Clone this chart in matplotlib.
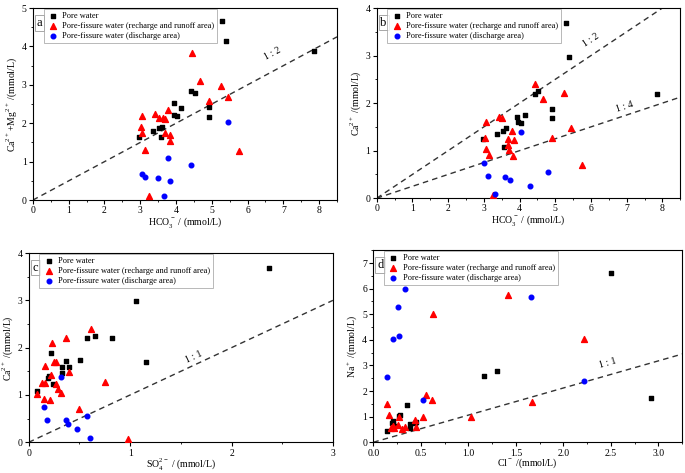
import numpy as np
import matplotlib.pyplot as plt
from matplotlib.ticker import MultipleLocator

plt.rcParams['font.family'] = ['Liberation Serif', 'DejaVu Serif']
plt.rcParams['mathtext.fontset'] = 'custom'
plt.rcParams['mathtext.rm'] = 'Liberation Serif'

labels = ['Pore water',
          'Pore-fissure water (recharge and runoff area)',
          'Pore-fissure water (discharge area)']

# panel a: HCO3- vs Ca2+ + Mg2+
a_pore_x = [2.97, 3.37, 3.53, 3.57, 3.61, 3.93, 3.94, 4.03, 4.15, 4.42, 4.53, 4.92, 4.92, 5.28, 5.40, 7.87]
a_pore_y = [1.65, 1.80, 1.87, 1.64, 1.91, 2.53, 2.21, 2.18, 2.41, 2.83, 2.79, 2.43, 2.16, 4.67, 4.13, 3.87]
a_rech_x = [3.01, 3.05, 3.06, 3.13, 3.25, 3.41, 3.52, 3.65, 3.68, 3.69, 3.78, 3.83, 3.84, 4.44, 4.66, 4.91, 5.26, 5.46, 5.75]
a_rech_y = [1.89, 1.74, 2.19, 1.30, 0.11, 2.24, 2.13, 2.13, 2.10, 1.74, 2.35, 1.53, 1.70, 3.82, 3.10, 2.59, 2.96, 2.68, 1.29]
a_dis_x = [3.06, 3.13, 3.50, 3.66, 3.78, 3.83, 4.43, 5.45]
a_dis_y = [0.68, 0.61, 0.58, 0.10, 1.10, 0.49, 0.92, 2.04]

# panel b: HCO3- vs Ca2+
b_pore_x = [2.98, 3.37, 3.54, 3.57, 3.62, 3.94, 3.95, 4.05, 4.15, 4.42, 4.52, 4.92, 4.92, 5.29, 5.39, 7.86]
b_pore_y = [1.24, 1.35, 1.42, 1.08, 1.47, 1.71, 1.60, 1.59, 1.75, 2.20, 2.25, 1.87, 1.68, 3.69, 2.98, 2.20]
b_rech_x = [3.03, 3.06, 3.07, 3.15, 3.25, 3.43, 3.52, 3.68, 3.67, 3.71, 3.79, 3.84, 3.83, 4.44, 4.66, 4.92, 5.25, 5.45, 5.75]
b_rech_y = [1.26, 1.61, 1.04, 0.91, 0.06, 1.71, 1.68, 1.24, 1.11, 1.01, 1.42, 1.23, 0.88, 2.40, 2.08, 1.26, 2.21, 1.47, 0.69]
b_dis_x = [3.00, 3.12, 3.31, 3.60, 3.72, 4.05, 4.28, 4.81]
b_dis_y = [0.75, 0.46, 0.08, 0.45, 0.38, 1.39, 0.26, 0.55]

# panel c: SO4 2- vs Ca2+
c_pore_x = [0.08, 0.19, 0.20, 0.22, 0.24, 0.33, 0.33, 0.37, 0.40, 0.51, 0.57, 0.65, 0.82, 1.06, 1.16, 2.37]
c_pore_y = [1.09, 1.35, 1.41, 1.88, 1.24, 1.59, 1.46, 1.71, 1.60, 1.74, 2.20, 2.25, 2.21, 2.98, 1.69, 3.68]
c_rech_x = [0.61, 0.37, 0.23, 0.25, 0.27, 0.16, 0.22, 0.40, 0.13, 0.16, 0.27, 0.29, 0.32, 0.75, 0.08, 0.15, 0.21, 0.50, 0.98]
c_rech_y = [2.40, 2.21, 2.09, 1.70, 1.69, 1.62, 1.42, 1.48, 1.26, 1.25, 1.23, 1.12, 1.05, 1.27, 1.02, 0.92, 0.89, 0.70, 0.07]
c_dis_x = [0.32, 0.15, 0.18, 0.37, 0.39, 0.48, 0.57, 0.60]
c_dis_y = [1.39, 0.75, 0.47, 0.46, 0.38, 0.27, 0.55, 0.09]

# panel d: Cl- vs Na+
d_pore_x = [0.14, 0.21, 0.21, 0.22, 0.27, 0.28, 0.35, 0.39, 0.39, 0.44, 0.45, 1.16, 1.30, 2.50, 2.92, 0.20]
d_pore_y = [0.44, 0.83, 0.70, 0.62, 1.03, 1.08, 1.44, 0.70, 0.54, 0.74, 0.80, 2.59, 2.79, 6.61, 1.71, 0.75]
d_rech_x = [0.14, 0.16, 0.185, 0.21, 0.22, 0.26, 0.27, 0.30, 0.33, 0.44, 0.45, 0.52, 0.55, 0.62, 0.63, 1.03, 1.42, 1.67, 2.22]
d_rech_y = [1.50, 1.05, 0.55, 0.62, 0.54, 0.67, 0.99, 0.51, 0.59, 0.86, 0.58, 0.99, 1.84, 1.64, 5.01, 0.99, 5.75, 1.57, 4.04]
d_dis_x = [0.14, 0.21, 0.26, 0.27, 0.33, 0.52, 1.66, 2.22]
d_dis_y = [2.55, 4.02, 5.29, 4.15, 5.99, 1.64, 5.69, 2.41]

fig = plt.figure(figsize=(6.85, 4.73), dpi=100)


def panel(rect, letter, pore, rech, dis, xlim, ylim, xstep, ystep, xlabel, ylabel,
          lines, xfmt=None):
    ax = fig.add_axes(rect)
    ax.scatter(*pore, marker='s', s=11, c='black', label=labels[0], zorder=3)
    ax.scatter(*rech, marker='^', s=18, c='red', label=labels[1], zorder=3)
    ax.scatter(*dis, marker='o', s=11, c='blue', label=labels[2], zorder=3)
    xs = np.array([0, xlim[1]])
    for slope, txt, tx, ty, rot in lines:
        ax.plot(xs, slope * xs, ls=(0, (4, 3)), color='#333333', lw=1)
        ax.text(tx, ty, txt, rotation=rot, fontsize=7, ha='center', va='center')
    ax.set_xlim(*xlim)
    ax.set_ylim(*ylim)
    ax.xaxis.set_major_locator(MultipleLocator(xstep))
    ax.yaxis.set_major_locator(MultipleLocator(ystep))
    ax.xaxis.set_minor_locator(MultipleLocator(xstep / 2))
    ax.yaxis.set_minor_locator(MultipleLocator(ystep / 2))
    if xfmt:
        ax.xaxis.set_major_formatter(xfmt)
    ax.tick_params(which='major', direction='out', length=3, width=0.8, labelsize=7, pad=1.5)
    ax.tick_params(which='minor', direction='out', length=1.5, width=0.6)
    for s in ax.spines.values():
        s.set_linewidth(0.8)
    ax.set_xlabel(xlabel, fontsize=7, labelpad=-0.5)
    ax.set_ylabel(ylabel, fontsize=7, labelpad=2)
    ax.text(0.012, 0.955, letter, transform=ax.transAxes, fontsize=9, va='top', ha='left',
            bbox=dict(boxstyle='square,pad=0.15', fc='white', ec='#999999', lw=0.6))
    leg = ax.legend(loc='upper left', bbox_to_anchor=(0.035, 0.995), fontsize=6,
                    frameon=True, fancybox=False, borderpad=0.35, labelspacing=0.25,
                    handletextpad=0.4, handlelength=1.5, borderaxespad=0)
    leg.get_frame().set_edgecolor('#999999')
    leg.get_frame().set_linewidth(0.6)
    return ax


panel([0.048, 0.577, 0.444, 0.406], 'a',
      (a_pore_x, a_pore_y), (a_rech_x, a_rech_y), (a_dis_x, a_dis_y),
      (0, 8.5), (0, 5), 1, 1,
      r'HCO$_3^-$ / (mmol/L)', r'Ca$^{2+}$+Mg$^{2+}$ /(mmol/L)',
      [(0.5, '1 : 2', 6.7, 3.82, 28)])

panel([0.550, 0.581, 0.443, 0.402], 'b',
      (b_pore_x, b_pore_y), (b_rech_x, b_rech_y), (b_dis_x, b_dis_y),
      (0, 8.5), (0, 4), 1, 1,
      r'HCO$_3^-$ / (mmol/L)', r'Ca$^{2+}$ /(mmol/L)',
      [(0.5, '1 : 2', 6.0, 3.33, 33), (0.25, '1 : 4', 6.95, 1.93, 18)])

panel([0.042, 0.065, 0.444, 0.400], 'c',
      (c_pore_x, c_pore_y), (c_rech_x, c_rech_y), (c_dis_x, c_dis_y),
      (0, 3), (0, 4), 1, 1,
      r'SO$_4^{2-}$ / (mmol/L)', r'Ca$^{2+}$ /(mmol/L)',
      [(1.0, '1 : 1', 1.63, 1.80, 25)])

panel([0.545, 0.065, 0.451, 0.406], 'd',
      (d_pore_x, d_pore_y), (d_rech_x, d_rech_y), (d_dis_x, d_dis_y),
      (0, 3.25), (0, 7.5), 0.5, 1,
      r'Cl$^-$ /(mmol/L)', r'Na$^+$ /(mmol/L)',
      [(1.06, '1 : 1', 2.47, 3.08, 16)], xfmt='{x:.1f}')

fig.savefig('out.png', dpi=100)
